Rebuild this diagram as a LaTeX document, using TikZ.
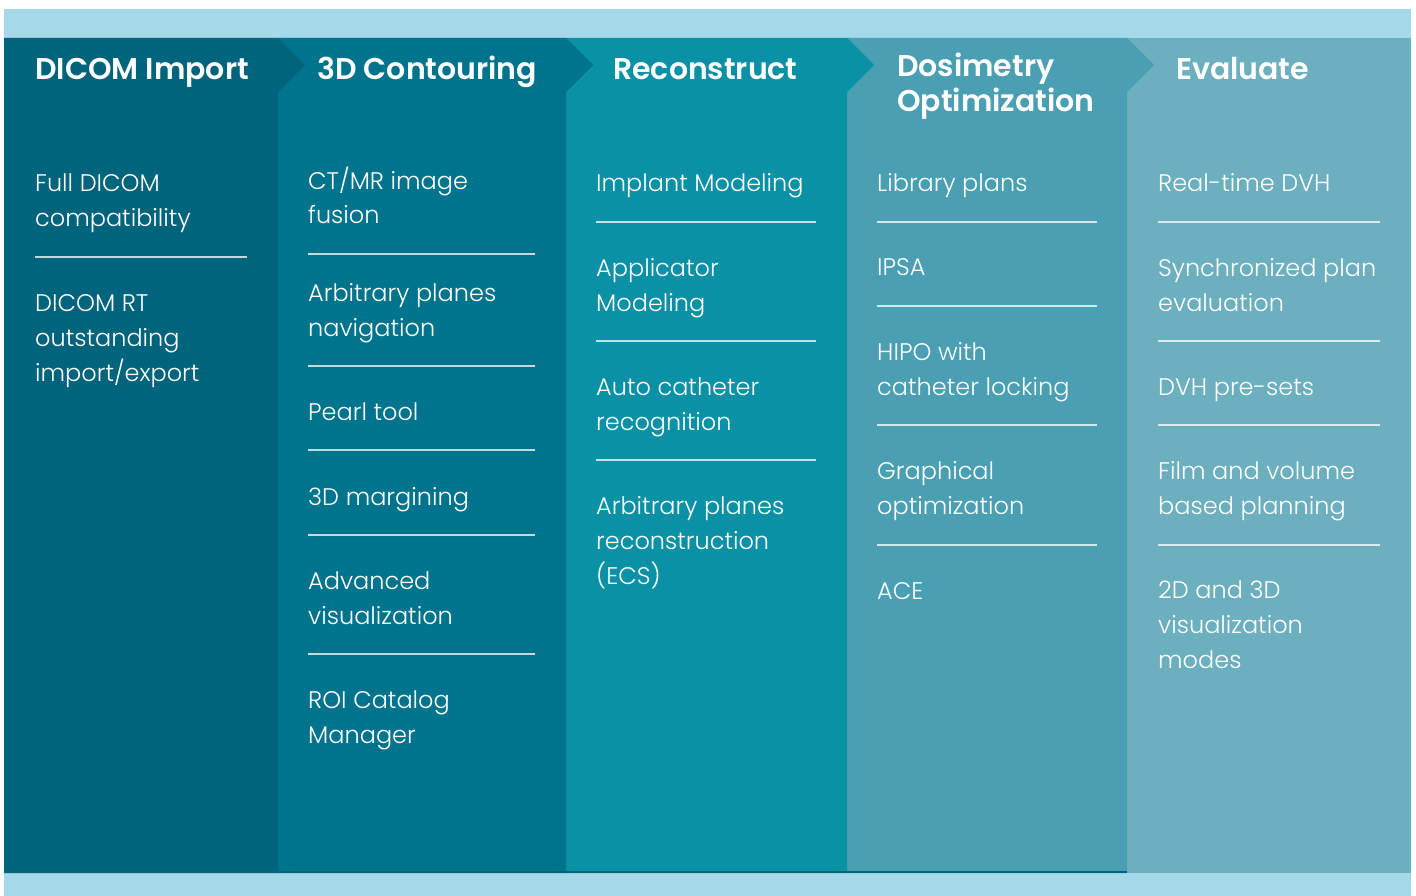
\documentclass[tikz,border=0pt]{standalone}
\usepackage{fontspec}
\setmainfont{Poppins}[UprightFont=* Light, BoldFont=* SemiBold]
\definecolor{band}{HTML}{A5D8E8}
\definecolor{colA}{HTML}{00647C}
\definecolor{colB}{HTML}{00748C}
\definecolor{colC}{HTML}{0A91A5}
\definecolor{colD}{HTML}{4AA0B2}
\definecolor{colE}{HTML}{6CAFBE}
% multi-line nodes sit on the baseline of their last line
\tikzset{
  head/.style={anchor=base west,inner sep=0pt,align=left,text=white,
    font=\fontsize{30}{35}\selectfont\bfseries},
  item/.style={anchor=base west,inner sep=0pt,align=left,text=white,
    font=\fontsize{24}{34.7}\selectfont},
  sep/.style={draw=white,draw opacity=0.75,line width=1.3pt}
}
\begin{document}
\begin{tikzpicture}[x=1pt,y=-1pt]
\useasboundingbox (0,0) rectangle (1416,896);
% bands
\fill[band] (4,9) rectangle (1411,38);
\fill[band] (4,873) rectangle (1411,896);
% columns, last one first so each chevron sits on top of the next
\fill[colE] (1127,38) rectangle (1411,873);
\fill[colD] (847,38) -- (1127,38) -- (1154,65) -- (1127,92) -- (1127,873) -- (847,873) -- cycle;
\fill[colC] (566,38) -- (847,38) -- (874,65) -- (847,92) -- (847,873) -- (566,873) -- cycle;
\fill[colB] (278,38) -- (566,38) -- (593,65) -- (566,92) -- (566,873) -- (278,873) -- cycle;
\fill[colA] (4,38) -- (278,38) -- (305,65) -- (278,92) -- (278,873) -- (4,873) -- cycle;
\draw[colA,line width=1.5pt] (4,872) -- (1127,872);

% headers
\node[head] (hImport) at (35,80) {DICOM Import};
\node[head] (hContour) at (317,80) {3D Contouring};
\node[head] (hRecon) at (613,80) {Reconstruct};
\node[head] (hDosi) at (897,112) {Dosimetry\\Optimization};
\node[head] (hEval) at (1176,80) {Evaluate};

% DICOM Import
\node[item] (imp1) at (35,226) {Full DICOM\\compatibility};
\draw[sep] (35,257) -- (247,257);
\node[item] (imp2) at (35,381) {DICOM RT\\outstanding\\import/export};

% 3D Contouring
\node[item] (con1) at (308,224) {CT/MR image\\fusion};
\draw[sep] (308,254) -- (535,254);
\node[item] (con2) at (308,336) {Arbitrary planes\\navigation};
\draw[sep] (308,366) -- (535,366);
\node[item] (con3) at (308,420) {Pearl tool};
\draw[sep] (308,450) -- (535,450);
\node[item] (con4) at (308,505) {3D margining};
\draw[sep] (308,535) -- (535,535);
\node[item] (con5) at (308,624) {Advanced\\visualization};
\draw[sep] (308,654) -- (535,654);
\node[item] (con6) at (308,743) {ROI Catalog\\Manager};

% Reconstruct
\node[item] (rec1) at (596,192) {Implant Modeling};
\draw[sep] (596,222) -- (816,222);
\node[item] (rec2) at (596,311) {Applicator\\Modeling};
\draw[sep] (596,341) -- (816,341);
\node[item] (rec3) at (596,430) {Auto catheter\\recognition};
\draw[sep] (596,460) -- (816,460);
\node[item] (rec4) at (596,584) {Arbitrary planes\\reconstruction\\(ECS)};

% Dosimetry Optimization
\node[item] (dos1) at (877,192) {Library plans};
\draw[sep] (877,222) -- (1097,222);
\node[item] (dos2) at (877,275) {IPSA};
\draw[sep] (877,306) -- (1097,306);
\node[item] (dos3) at (877,395) {HIPO with\\catheter locking};
\draw[sep] (877,425) -- (1097,425);
\node[item] (dos4) at (877,514) {Graphical\\optimization};
\draw[sep] (877,545) -- (1097,545);
\node[item] (dos5) at (877,599) {ACE};

% Evaluate
\node[item] (eva1) at (1158,192) {Real-time DVH};
\draw[sep] (1158,222) -- (1380,222);
\node[item] (eva2) at (1158,311) {Synchronized plan\\evaluation};
\draw[sep] (1158,341) -- (1380,341);
\node[item] (eva3) at (1158,395) {DVH pre-sets};
\draw[sep] (1158,425) -- (1380,425);
\node[item] (eva4) at (1158,514) {Film and volume\\based planning};
\draw[sep] (1158,545) -- (1380,545);
\node[item] (eva5) at (1158,668) {2D and 3D\\visualization\\modes};
\end{tikzpicture}
\end{document}
